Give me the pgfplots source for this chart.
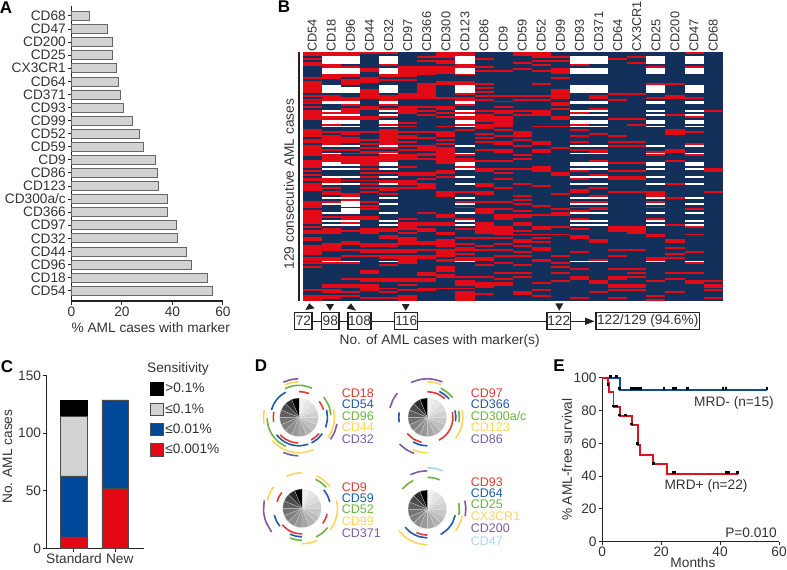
\documentclass[border=0pt]{standalone}
\usepackage{fontspec}
\setmainfont{Liberation Sans}
\usepackage{pgfplots}
\usepackage{pgfplotstable}
\pgfplotsset{compat=1.18}
\usepgfplotslibrary{polar}
\definecolor{txt}{HTML}{333333}
\definecolor{axc}{HTML}{222222}
\definecolor{navyh}{HTML}{12305A}
\definecolor{redh}{HTML}{E30A17}
\definecolor{cR}{HTML}{DF3A32}
\definecolor{cB}{HTML}{1F5AA6}
\definecolor{cG}{HTML}{6DB33F}
\definecolor{cY}{HTML}{FDD55C}
\definecolor{cP}{HTML}{7B5BA6}
\definecolor{cL}{HTML}{A8D8F0}
\definecolor{sR}{HTML}{E30613}
\definecolor{sB}{HTML}{00489A}
\definecolor{sG}{HTML}{D2D2D2}
\definecolor{mRed}{HTML}{D7141F}
\definecolor{mBlue}{HTML}{0B4C94}
\newcommand\lab{\fontsize{13.7}{15}\selectfont}
\newcommand\labt{\fontsize{12.8}{14}\selectfont}
\newcommand\labd{\fontsize{12.5}{14}\selectfont}
\newcommand\pnl{\fontsize{17}{19}\selectfont\bfseries}
\pgfplotsset{
  base/.style={scale only axis, clip=false, axis lines*=left,
    tick align=outside, major tick length=3.5pt,
    every tick/.style={line width=1pt,axc},
    axis line style={line width=1.1pt,axc,-},
    /pgf/number format/assume math mode=true,
    tick label style={font=\lab,text=txt,inner sep=2pt},
    label style={font=\lab,text=txt,inner sep=0pt}},
  arc0/.style={no marks,smooth,line width=1.6pt},
  wedge/.style={draw=white!85!gray,line width=.2pt}
}
\newcommand\ring[3]{\addplot[arc0,#1] table[header=false,row sep=crcr,x index=0,y expr=#2]{#3};}
\newcommand\pie{%
\addplot[wedge,fill=black!6] coordinates {(0,0)(90,19.3)(79,19.3)(67.5,19.3)};
\addplot[wedge,fill=black!10] coordinates {(0,0)(67.5,19.3)(56,19.3)(45,19.3)};
\addplot[wedge,fill=black!14] coordinates {(0,0)(45,19.3)(34,19.3)(22.5,19.3)};
\addplot[wedge,fill=black!18] coordinates {(0,0)(22.5,19.3)(11,19.3)(0,19.3)};
\addplot[wedge,fill=black!22] coordinates {(0,0)(0,19.3)(-11,19.3)(-22.5,19.3)};
\addplot[wedge,fill=black!26] coordinates {(0,0)(-22.5,19.3)(-34,19.3)(-45,19.3)};
\addplot[wedge,fill=black!30] coordinates {(0,0)(-45,19.3)(-56,19.3)(-67.5,19.3)};
\addplot[wedge,fill=black!35] coordinates {(0,0)(-67.5,19.3)(-79,19.3)(-90,19.3)};
\addplot[wedge,fill=black!40] coordinates {(0,0)(-90,19.3)(-101,19.3)(-112.5,19.3)};
\addplot[wedge,fill=black!45] coordinates {(0,0)(-112.5,19.3)(-124,19.3)(-135,19.3)};
\addplot[wedge,fill=black!50] coordinates {(0,0)(-135,19.3)(-146,19.3)(-157.5,19.3)};
\addplot[wedge,fill=black!55] coordinates {(0,0)(-157.5,19.3)(-169,19.3)(-180,19.3)};
\addplot[wedge,fill=black!62] coordinates {(0,0)(180,19.3)(169,19.3)(157.5,19.3)};
\addplot[wedge,fill=black!70] coordinates {(0,0)(157.5,19.3)(146,19.3)(135,19.3)};
\addplot[wedge,fill=black!82] coordinates {(0,0)(135,19.3)(124,19.3)(112.5,19.3)};
\addplot[wedge,fill=black] coordinates {(0,0)(112.5,19.3)(101,19.3)(90,19.3)};
}
\pgfplotsset{pieaxis/.style={scale only axis,hide axis,clip=false,width=88pt,height=88pt,ymin=0,ymax=44,anchor=center}}
% Heat map: one row per run of cells: column, first case, number of cases
\pgfplotstableread[row sep=crcr]{
c r h\\
0 0 2\\0 3 1\\0 5 2\\0 13 1\\0 15 1\\0 16 5\\0 22 1\\0 24 1\\0 26 1\\0 28 1\\0 30 2\\0 32 3\\0 40 4\\0 45 1\\0 46 1\\0 48 2\\0 50 4\\0 56 3\\0 59 1\\0 61 1\\0 63 1\\0 65 2\\0 68 4\\0 77 4\\0 82 1\\0 83 6\\0 90 1\\0 92 2\\0 96 2\\0 100 2\\0 102 3\\0 106 2\\0 109 1\\0 111 1\\0 123 1\\0 126 3\\
1 0 2\\1 6 2\\1 11 3\\1 22 1\\1 23 2\\1 31 1\\1 33 2\\1 37 1\\1 41 1\\1 43 1\\1 44 3\\1 47 1\\1 50 1\\1 53 4\\1 65 3\\1 70 1\\1 72 2\\1 77 1\\1 85 1\\1 91 3\\1 99 3\\1 102 1\\1 106 2\\1 109 1\\1 120 2\\1 123 2\\1 126 2\\
2 0 2\\2 7 1\\2 11 2\\2 14 2\\2 16 1\\2 23 2\\2 27 1\\2 29 3\\2 33 2\\2 41 2\\2 44 3\\2 50 1\\2 52 1\\2 54 2\\2 56 2\\2 66 1\\2 73 2\\2 76 1\\2 85 2\\2 88 1\\2 92 1\\2 98 2\\2 102 1\\2 105 1\\2 109 1\\2 117 1\\2 120 2\\2 124 1\\2 126 1\\
3 0 1\\3 8 2\\3 13 2\\3 15 1\\3 19 2\\3 21 3\\3 28 2\\3 33 2\\3 41 1\\3 45 1\\3 47 1\\3 49 1\\3 51 2\\3 54 4\\3 58 1\\3 60 1\\3 62 1\\3 64 1\\3 66 1\\3 68 1\\3 70 1\\3 72 1\\3 77 1\\3 79 1\\3 81 1\\3 85 2\\3 91 3\\3 99 2\\3 102 2\\3 105 1\\3 113 2\\3 117 2\\3 120 4\\3 127 1\\
4 0 1\\4 6 1\\4 11 2\\4 14 1\\4 22 3\\4 27 1\\4 29 1\\4 33 1\\4 37 1\\4 40 4\\4 44 2\\4 46 2\\4 49 1\\4 51 1\\4 53 1\\4 54 2\\4 56 1\\4 62 1\\4 66 2\\4 70 2\\4 73 1\\4 91 2\\4 95 2\\4 99 2\\4 102 2\\4 105 2\\4 110 1\\4 117 2\\4 122 1\\4 124 1\\4 127 1\\
5 7 6\\5 14 1\\5 21 3\\5 28 4\\5 36 1\\5 38 1\\5 41 1\\5 43 2\\5 46 1\\5 48 1\\5 50 1\\5 53 3\\5 59 1\\5 62 2\\5 66 3\\5 70 1\\5 86 1\\5 88 4\\5 93 1\\5 96 4\\5 102 2\\5 105 1\\5 106 4\\5 117 2\\5 120 1\\5 123 1\\5 126 3\\
6 2 1\\6 4 1\\6 7 2\\6 9 3\\6 16 8\\6 28 1\\6 30 1\\6 32 1\\6 41 1\\6 44 1\\6 48 3\\6 52 2\\6 55 1\\6 62 2\\6 65 1\\6 68 3\\6 83 1\\6 88 2\\6 91 2\\6 98 2\\6 102 1\\6 105 2\\6 114 2\\6 117 2\\6 122 2\\
7 0 2\\7 2 1\\7 4 2\\7 7 4\\7 15 2\\7 23 1\\7 28 2\\7 31 1\\7 33 1\\7 38 1\\7 41 3\\7 45 1\\7 47 1\\7 49 2\\7 51 5\\7 56 2\\7 61 2\\7 64 1\\7 72 3\\7 84 2\\7 88 2\\7 93 2\\7 97 3\\7 100 1\\7 102 3\\7 105 1\\7 107 2\\7 111 3\\7 115 2\\7 122 1\\
8 0 2\\8 6 2\\8 11 1\\8 15 2\\8 21 1\\8 23 2\\8 27 1\\8 31 1\\8 33 2\\8 37 1\\8 40 1\\8 53 1\\8 55 2\\8 59 1\\8 72 1\\8 77 1\\8 80 1\\8 86 1\\8 91 1\\8 96 1\\8 99 1\\8 101 2\\8 104 1\\8 106 2\\8 116 1\\8 118 3\\8 122 1\\8 124 2\\8 126 3\\
9 3 1\\9 7 1\\9 9 1\\9 16 1\\9 18 1\\9 20 1\\9 22 1\\9 24 1\\9 30 1\\9 32 4\\9 37 3\\9 42 1\\9 44 1\\9 46 1\\9 50 1\\9 56 1\\9 60 2\\9 68 2\\9 72 2\\9 77 1\\9 81 3\\9 88 6\\9 96 1\\9 100 1\\9 102 1\\9 106 2\\9 110 1\\9 116 1\\9 119 3\\9 125 1\\
10 9 1\\10 22 1\\10 25 1\\10 28 1\\10 30 2\\10 33 5\\10 38 1\\10 40 1\\10 43 1\\10 46 2\\10 50 2\\10 56 1\\10 60 1\\10 62 1\\10 65 1\\10 70 1\\10 77 1\\10 81 1\\10 84 3\\10 90 2\\10 92 3\\10 96 1\\10 99 1\\10 102 1\\10 105 1\\10 109 1\\10 114 1\\10 117 1\\10 119 2\\
11 0 2\\11 5 1\\11 8 1\\11 22 1\\11 24 1\\11 30 1\\11 32 1\\11 41 3\\11 45 1\\11 48 1\\11 53 1\\11 55 1\\11 60 1\\11 68 1\\11 74 1\\11 76 1\\11 78 1\\11 82 1\\11 84 2\\11 88 2\\11 92 1\\11 94 1\\11 97 2\\11 100 1\\11 103 1\\11 105 1\\11 110 1\\11 114 1\\11 116 1\\11 124 2\\
12 0 1\\12 1 2\\12 4 1\\12 6 1\\12 9 1\\12 16 1\\12 22 1\\12 24 1\\12 30 3\\12 38 1\\12 46 2\\12 50 2\\12 59 3\\12 69 1\\12 79 1\\12 84 1\\12 90 2\\12 94 1\\12 96 1\\12 98 1\\12 101 2\\12 107 2\\12 119 1\\12 123 1\\12 126 1\\
13 2 1\\13 4 1\\13 8 1\\13 9 2\\13 13 1\\13 19 5\\13 26 2\\13 29 1\\13 33 2\\13 38 1\\13 49 1\\13 62 2\\13 73 1\\13 81 1\\13 83 2\\13 90 1\\13 94 1\\13 105 1\\13 109 1\\13 111 1\\13 114 1\\13 118 1\\
14 6 1\\14 31 1\\14 37 1\\14 40 1\\14 43 1\\14 46 1\\14 50 1\\14 61 1\\14 65 1\\14 71 2\\14 77 1\\14 80 1\\14 82 1\\14 86 1\\14 91 1\\14 95 2\\14 103 1\\14 112 1\\14 116 2\\14 127 1\\
15 22 2\\15 29 1\\15 42 1\\15 50 2\\15 56 1\\15 58 1\\15 63 1\\15 70 1\\15 74 1\\15 77 1\\15 80 2\\15 97 2\\15 107 1\\15 118 2\\15 124 1\\
16 3 1\\16 21 1\\16 24 1\\16 34 1\\16 43 1\\16 46 1\\16 48 1\\16 57 1\\16 61 1\\16 64 2\\16 72 1\\16 90 2\\16 92 1\\16 102 1\\16 105 1\\16 112 1\\16 116 2\\16 120 2\\16 123 1\\16 127 1\\
17 2 1\\17 5 1\\17 21 1\\17 34 1\\17 37 1\\17 46 1\\17 48 1\\17 57 1\\17 61 1\\17 64 2\\17 72 1\\17 90 4\\17 102 1\\17 112 1\\17 114 1\\17 116 1\\17 120 2\\17 123 1\\
18 7 1\\18 16 1\\18 23 1\\18 51 1\\18 53 1\\18 72 2\\18 74 1\\18 77 1\\18 80 1\\18 86 1\\18 94 2\\18 106 2\\18 118 1\\18 126 1\\18 128 1\\
19 16 1\\19 22 2\\19 32 1\\19 40 3\\19 50 2\\19 56 1\\19 68 1\\19 75 1\\19 89 1\\19 97 2\\19 101 1\\19 104 1\\19 106 1\\19 114 1\\19 117 1\\19 124 1\\
20 0 1\\20 7 1\\20 23 1\\20 33 1\\20 41 1\\20 47 1\\20 53 1\\20 81 1\\20 90 1\\20 94 1\\20 103 1\\20 109 1\\20 114 1\\20 118 2\\
21 30 1\\21 60 2\\21 72 1\\21 118 1\\21 120 2\\21 123 1\\21 127 1\\
}\redcells
\pgfplotstableread[row sep=crcr]{
c r h\\
1 2 4\\1 8 3\\1 17 4\\1 25 2\\1 30 1\\1 32 1\\1 35 2\\1 38 1\\1 48 1\\1 52 1\\1 57 2\\1 60 1\\1 64 1\\1 68 1\\1 75 1\\1 78 1\\1 83 1\\1 87 1\\1 89 1\\1 108 1\\
2 2 4\\2 8 3\\2 18 3\\2 25 2\\2 32 1\\2 35 2\\2 38 1\\2 48 1\\2 58 1\\2 60 1\\2 64 1\\2 68 1\\2 75 1\\2 77 3\\2 81 3\\2 87 1\\2 89 1\\2 108 1\\
4 2 4\\4 8 3\\4 17 4\\4 25 2\\4 30 1\\4 32 1\\4 35 2\\4 38 1\\4 48 1\\4 52 1\\4 57 2\\4 60 1\\4 64 1\\4 68 1\\4 75 1\\4 78 1\\4 83 1\\4 87 1\\4 89 1\\4 108 1\\
8 2 4\\8 8 3\\8 17 4\\8 25 2\\8 30 1\\8 32 1\\8 35 2\\8 38 1\\8 48 1\\8 52 1\\8 57 2\\8 60 1\\8 64 1\\8 68 1\\8 75 1\\8 78 1\\8 83 1\\8 87 1\\8 89 1\\8 108 1\\
14 2 4\\14 8 3\\14 17 4\\14 25 2\\14 30 1\\14 32 1\\14 35 2\\14 38 1\\14 48 1\\14 52 1\\14 57 2\\14 60 1\\14 64 1\\14 68 1\\14 75 1\\14 78 1\\14 83 1\\14 87 1\\14 89 1\\14 108 1\\
15 2 4\\15 8 3\\15 17 4\\15 25 2\\15 30 1\\15 32 1\\15 35 2\\15 38 1\\15 48 1\\15 52 1\\15 57 2\\15 60 1\\15 64 1\\15 68 1\\15 75 1\\15 78 1\\15 83 1\\15 87 1\\15 89 1\\15 108 1\\
18 2 4\\18 8 3\\18 17 4\\18 25 2\\18 30 1\\18 32 1\\18 35 2\\18 38 1\\18 48 1\\18 52 1\\18 57 2\\18 60 1\\18 64 1\\18 68 1\\18 75 1\\18 78 1\\18 83 1\\18 87 1\\18 89 1\\18 108 1\\
20 2 4\\20 8 3\\20 17 4\\20 25 2\\20 30 1\\20 32 1\\20 35 2\\20 38 1\\20 48 1\\20 52 1\\20 57 2\\20 60 1\\20 64 1\\20 68 1\\20 75 1\\20 78 1\\20 83 1\\20 87 1\\20 89 1\\20 108 1\\
}\whitecells
\begin{document}
\begin{tikzpicture}[x=1pt,y=1pt]
\useasboundingbox (0,0) rectangle (787,-570);
% ---------- A
\begin{axis}[base,at={(71.5pt,-301pt)},anchor=south west,width=151.5pt,height=295pt,
  xmin=0,xmax=60,ymin=-0.79,ymax=21.76,xtick={0,20,40,60},ytick=data,
  yticklabels={CD54,CD18,CD96,CD44,CD32,CD97,CD366,CD300a/c,CD123,CD86,CD9,CD59,CD52,CD99,CD93,CD371,CD64,CX3CR1,CD25,CD200,CD47,CD68},
  xlabel={\% AML cases with marker},
  xlabel style={at={(axis description cs:0.523,-0.0915)},anchor=center}]
\addplot[xbar,bar width=9pt,fill=sG,draw=black!60,line width=.7pt] coordinates {
(55.6,0)(53.9,1)(47.3,2)(45.4,3)(42.1,4)(41.7,5)(37.9,6)(37.9,7)(34.2,8)(34.0,9)(33.2,10)(28.5,11)(26.9,12)(24.2,13)(20.4,14)(19.3,15)(18.4,16)(17.6,17)(16.3,18)(16.0,19)(14.2,20)(6.9,21)};
\end{axis}
% ---------- B
\begin{axis}[scale only axis,clip=true,at={(302.7pt,-301pt)},anchor=south west,width=420pt,height=248.7pt,
  xmin=-0.5,xmax=21.5,ymin=0,ymax=129,y dir=reverse,
  axis background/.style={fill=navyh},axis line style={draw=none},
  major tick length=0pt,ytick=\empty,xtick={0,...,21},xticklabel pos=top,
  xticklabels={CD54,CD18,CD96,CD44,CD32,CD97,CD366,CD300,CD123,CD86,CD9,CD59,CD52,CD99,CD93,CD371,CD64,CX3CR1,CD25,CD200,CD47,CD68},
  xticklabel style={rotate=90,anchor=west,font=\labt,text=txt,inner sep=.5pt},
  ylabel={129 consecutive AML cases},
  ylabel style={font=\lab,text=txt,inner sep=0pt,at={(axis description cs:-0.0326,0.47)},anchor=center}]
\addplot[draw=none,mark=none,forget plot,error bars/.cd,y dir=plus,y explicit,error mark=none,
  error bar style={draw=redh,line width=19.1pt,solid}] table[x=c,y=r,y error=h]{\redcells};
\addplot[draw=none,mark=none,forget plot,error bars/.cd,y dir=plus,y explicit,error mark=none,
  error bar style={draw=white,line width=19.1pt,solid}] table[x=c,y=r,y error=h]{\whitecells};
\end{axis}
\draw[line width=1.2pt,axc] (299,-52.3)--(299,-301);
% B: scheme under the map
\draw[line width=1.2pt,axc] (312,-321.3)--(591,-321.3);
\fill[axc] (594.5,-321.3)--(585,-317.5)--(585,-325)--cycle;
\fill[axc] (305.3,-310)--(314.7,-308.3)--(309.3,-303.3)--cycle;
\fill[axc] (326,-304)--(334,-304)--(330,-310.7)--cycle;
\fill[axc] (346.7,-308.3)--(356,-310.7)--(351,-303.3)--cycle;
\fill[axc] (401.7,-304)--(409.7,-304)--(405.7,-310.7)--cycle;
\fill[axc] (555.3,-303.3)--(563.3,-303.3)--(559.3,-310.7)--cycle;
\tikzset{bx/.style={draw=axc,line width=1.2pt,fill=white,inner sep=0pt,minimum height=16.6pt,font=\lab,text=txt,anchor=center}}
\node[bx,minimum width=17.3pt] at (303.4,-321) {72};
\node[bx,minimum width=17.3pt] at (330.3,-321) {98};
\node[bx,minimum width=23pt] at (359.5,-321) {108};
\node[bx,minimum width=23pt] at (406.2,-321) {116};
\node[bx,minimum width=23.3pt] at (558.7,-321) {122};
\node[bx,minimum width=103.3pt] at (647.7,-321) {122/129 (94.6\%)};
\node[font=\lab,text=txt,inner sep=0pt] at (439.7,-340.7) {No. of AML cases with marker(s)};
% ---------- C
\begin{axis}[base,at={(46.7pt,-548.3pt)},anchor=south west,width=97.3pt,height=172.6pt,
  ybar stacked,bar width=26.6pt,xmin=-0.661,xmax=1.695,ymin=0,ymax=150,
  xtick={0,1},xticklabels={Standard\hspace{4pt},\hspace{9pt}New},ytick={0,50,100,150},
  ylabel={No. AML cases},
  ylabel style={at={(axis description cs:-0.403,0.531)},anchor=center},
  reverse legend,
  legend cell align=left,
  legend image code/.code={\draw[#1] (0pt,-6.3pt) rectangle (12.7pt,6.3pt);},
  legend style={at={(axis description cs:1.06,0.968)},anchor=north west,draw=none,fill=none,
    font=\lab,text=txt,row sep=5.2pt,inner sep=0pt,
    /tikz/every even column/.append style={column sep=5pt}}]
\addplot[fill=sR,draw=black!70,line width=.6pt] coordinates {(0,10)(1,52)};
\addplot[fill=sB,draw=black!70,line width=.6pt] coordinates {(0,53)(1,77)};
\addplot[fill=sG,draw=black!70,line width=.6pt] coordinates {(0,52)(1,0)};
\addplot[fill=black,draw=black,line width=.6pt] coordinates {(0,14)(1,0)};
\legend{≤0.001\%,≤0.01\%,≤0.1\%,>0.1\%}
\end{axis}
\node[font=\lab,text=txt,inner sep=0pt] at (178,-369) {Sensitivity};
% ---------- D
\begin{polaraxis}[pieaxis,at={(299pt,-417.3pt)}]
\pie
\ring{cR}{25.7}{67\\78\\90\\}\ring{cR}{25.7}{17\\27\\38\\}\ring{cR}{25.7}{-62\\-50\\-39\\}\ring{cR}{25.7}{-137\\-122\\-107\\-92\\}\ring{cR}{25.7}{168\\179\\190\\}
\ring{cB}{28.5}{118\\134\\150\\165\\}\ring{cB}{28.5}{-21\\-3\\15\\}\ring{cB}{28.5}{-142\\-125\\-107\\-89\\-71\\}\ring{cB}{28.5}{-64\\-50\\-35\\}
\ring{cG}{32}{66\\83\\100\\116\\}\ring{cG}{32}{4\\21\\39\\}\ring{cG}{32}{182\\198\\214\\230\\246\\}
\ring{cY}{35.5}{91\\102\\114\\}\ring{cY}{35.5}{168\\179\\190\\}\ring{cY}{35.5}{-36\\-20\\-4\\13\\}\ring{cY}{35.5}{-139\\-121\\-103\\-85\\-66\\}
\ring{cP}{38.5}{91\\102\\114\\}\ring{cP}{38.5}{-35\\-22\\-10\\}\ring{cP}{38.5}{-114\\-102\\-91\\}
\end{polaraxis}
\begin{polaraxis}[pieaxis,at={(427.3pt,-417.3pt)}]
\pie
\ring{cR}{25.7}{47\\68\\90\\}\ring{cR}{25.7}{-63\\-45\\-27\\-8\\12\\}\ring{cR}{25.7}{-141\\-122\\-103\\}
\ring{cB}{28.5}{40\\52\\65\\}\ring{cB}{28.5}{-8\\3\\14\\}\ring{cB}{28.5}{170\\180\\190\\}\ring{cB}{28.5}{-120\\-105\\-90\\}
\ring{cG}{32}{38\\51\\65\\}\ring{cG}{32}{-8\\2\\12\\}
\ring{cY}{35.5}{67\\78\\90\\}\ring{cY}{35.5}{-37\\-21\\-4\\12\\}\ring{cY}{35.5}{-114\\-102\\-90\\}
\ring{cP}{38.5}{67\\83\\99\\115\\}\ring{cP}{38.5}{141\\153\\166\\}\ring{cP}{38.5}{-136\\-123\\-110\\}
\end{polaraxis}
\begin{polaraxis}[pieaxis,at={(302pt,-508.3pt)}]
\pie
\ring{cR}{25.7}{142\\153\\165\\}\ring{cR}{25.7}{-36\\-24\\-13\\}\ring{cR}{25.7}{-140\\-123\\-107\\-90\\}
\ring{cB}{28.5}{13\\26\\40\\}\ring{cB}{28.5}{194\\206\\219\\}\ring{cB}{28.5}{-115\\-102\\-90\\}
\ring{cG}{32}{41\\53\\65\\}\ring{cG}{32}{-64\\-50\\-37\\}\ring{cG}{32}{-112\\-101\\-90\\}
\ring{cY}{35.5}{90\\103\\116\\}\ring{cY}{35.5}{38\\52\\66\\}\ring{cY}{35.5}{-38\\-25\\-12\\0\\13\\}\ring{cY}{35.5}{143\\155\\167\\}\ring{cY}{35.5}{-90\\-77\\-65\\}
\ring{cP}{38.5}{168\\185\\201\\218\\}
\end{polaraxis}
\begin{polaraxis}[pieaxis,at={(427.3pt,-509.3pt)}]
\pie
\ring{cR}{25.7}{-115\\-102\\-90\\}
\ring{cB}{28.5}{-141\\-124\\-107\\-90\\}\ring{cB}{28.5}{-62\\-45\\-29\\-12\\}
\ring{cG}{32}{67\\78\\90\\}\ring{cG}{32}{116\\128\\141\\}\ring{cG}{32}{-10\\0\\11\\}
\ring{cY}{35.5}{-143\\-125\\-107\\-90\\}\ring{cY}{35.5}{-37\\-24\\-11\\}
\ring{cP}{38.5}{90\\103\\116\\}\ring{cP}{38.5}{-10\\2\\13\\}
\ring{cL}{41.5}{68\\79\\90\\}
\end{polaraxis}
\tikzset{dl/.style={font=\labd,inner sep=0pt,anchor=west}}
\node[dl,text=cR] at (341.7,-392.7) {CD18};
\node[dl,text=cB] at (341.7,-404) {CD54};
\node[dl,text=cG] at (341.7,-415.7) {CD96};
\node[dl,text=cY] at (341.7,-427.3) {CD44};
\node[dl,text=cP] at (341.7,-439) {CD32};
\node[dl,text=cR] at (470.7,-392.7) {CD97};
\node[dl,text=cB] at (470.7,-404) {CD366};
\node[dl,text=cG] at (470.7,-415.7) {CD300a/c};
\node[dl,text=cY] at (470.7,-427.3) {CD123};
\node[dl,text=cP] at (470.7,-439) {CD86};
\node[dl,text=cR] at (341.7,-486.7) {CD9};
\node[dl,text=cB] at (341.7,-498.3) {CD59};
\node[dl,text=cG] at (341.7,-509.3) {CD52};
\node[dl,text=cY] at (341.7,-521) {CD99};
\node[dl,text=cP] at (341.7,-533.3) {CD371};
\node[dl,text=cR] at (470.7,-481.7) {CD93};
\node[dl,text=cB] at (470.7,-492.7) {CD64};
\node[dl,text=cG] at (470.7,-504.3) {CD25};
\node[dl,text=cY] at (470.7,-516) {CX3CR1};
\node[dl,text=cP] at (470.7,-527.7) {CD200};
\node[dl,text=cL] at (470.7,-541) {CD47};
% ---------- E
\begin{axis}[base,at={(602.3pt,-541.7pt)},anchor=south west,width=176.7pt,height=164pt,
  xmin=0,xmax=60,ymin=0,ymax=100,xtick={0,20,40,60},ytick={0,20,40,60,80,100},
  xlabel={Months},ylabel={\% AML-free survival},
  xlabel style={at={(axis description cs:0.513,-0.13)},anchor=center},
  ylabel style={at={(axis description cs:-0.2,0.5)},anchor=center}]
\addplot[mBlue,line width=1.8pt,no marks] coordinates {(0,100)(6,100)(6,92.4)(56,92.4)};
\addplot[mRed,line width=1.8pt,no marks] coordinates {(0,100)(2,100)(2,97)(2.2,97)(2.2,91.5)(3.8,91.5)(3.8,82.3)(6,82.3)(6,76.5)(10,76.5)(10,71)(12,71)(12,59)(12.8,59)(12.8,53)(17.3,53)(17.3,47.4)(21.9,47.4)(21.9,41.2)(46,41.2)};
\addplot[only marks,mark=square*,mark size=.85pt,black] coordinates {(2.6,101)(4.6,101)(5.8,93.6)(9.7,93.6)(10.5,93.6)(11.3,93.6)(12,93.6)(12.8,93.6)(20.8,93.6)(23.9,93.6)(24.5,93.6)(24.9,93.6)(28.9,93.6)(40.9,93.6)(41.9,93.6)(55.8,93.6)};
\addplot[only marks,mark=square*,mark size=.85pt,black] coordinates {(1.8,96)(3.7,83)(4.3,83)(4.9,83)(5.8,77.5)(7.7,77.5)(9.7,72)(11.9,60)(17.3,48)(23.9,42.2)(24.5,42.2)(41.9,42.2)(42.8,42.2)(45.9,42.2)};
\end{axis}
\tikzset{el/.style={font=\lab,text=txt,inner sep=0pt}}
\node[el] at (734,-403) {MRD- (n=15)};
\node[el] at (706,-486) {MRD+ (n=22)};
\node[el] at (751,-533) {P=0.010};
% ---------- panel letters
\tikzset{pl/.style={font=\pnl,inner sep=0pt,text=black}}
\node[pl] at (6,-8) {A};
\node[pl] at (284,-7) {B};
\node[pl] at (7,-367) {C};
\node[pl] at (261,-366) {D};
\node[pl] at (559,-366) {E};
\end{tikzpicture}
\end{document}
